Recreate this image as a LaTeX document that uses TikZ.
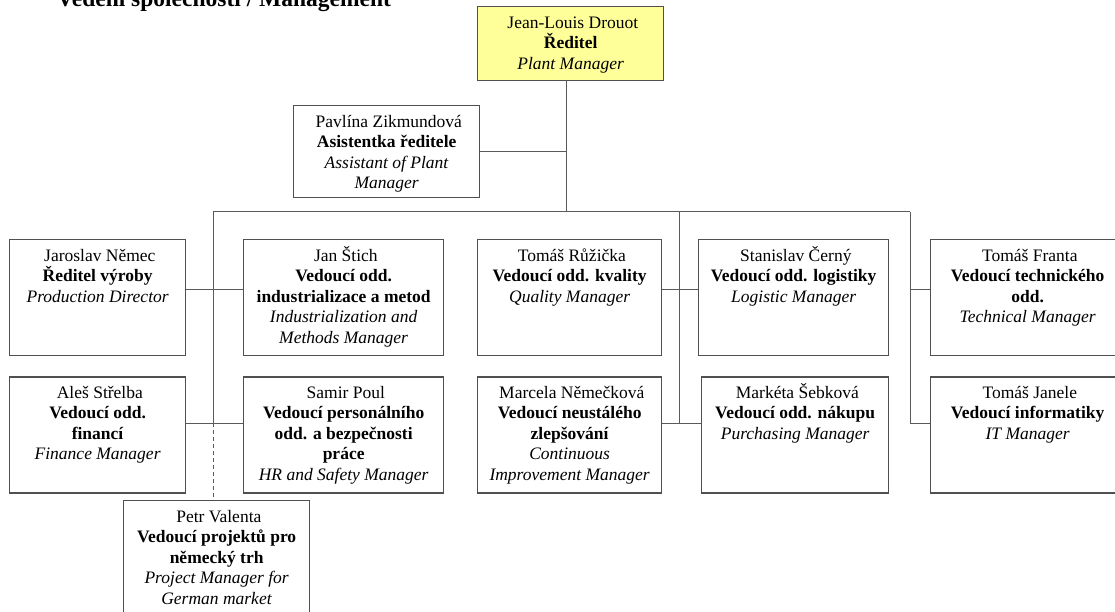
\documentclass[tikz,border=0pt]{standalone}
\usepackage{fontspec}
\setmainfont{Liberation Serif}
\usetikzlibrary{positioning}
\definecolor{headyellow}{RGB}{255,255,153}
\definecolor{boxgray}{RGB}{80,80,80}
\definecolor{linkgray}{RGB}{90,90,90}
\newcommand{\cardtext}[3]{\parbox[t][#2][t]{#1}{\centering\rule{0pt}{21.5pt}#3}}
\tikzset{
    staff/.style={rectangle, draw=boxgray, line width=1.3pt, inner sep=0pt, font=\fontsize{17.5}{20.5}\selectfont},
    headbox/.style={staff, fill=headyellow},
    link/.style={draw=linkgray, line width=1pt},
    dashlink/.style={link, dash pattern=on 4pt off 3pt},
    heading/.style={font=\fontsize{23.5}{26}\selectfont\bfseries}
}

\begin{document}
\begin{tikzpicture}[x=1pt, y=-1pt]

\useasboundingbox (0,0) rectangle (1115,612);
\clip (0,0) rectangle (1115,612);

% Title (cut at the top edge)
\node[heading, anchor=base] (title) at (224,7) {Vedení společnosti / Management};

% Plant manager
\node[headbox, anchor=north west] (drouot) at (477,6) {\cardtext{186pt}{74pt}{
    Jean-Louis Drouot\\
    \textbf{Ředitel}\\
    \textit{Plant Manager}}};

% Assistant
\node[staff, anchor=north west] (zikmundova) at (293,105) {\cardtext{186pt}{92pt}{
    Pavlína Zikmundová\\
    \textbf{Asistentka ředitele}\\
    \textit{Assistant of Plant}\\
    \textit{Manager}}};

% First row
\node[staff, anchor=north west] (nemec) at (9,239) {\cardtext{176pt}{116pt}{
    Jaroslav Němec\\
    \textbf{Ředitel výroby}\\
    \textit{Production Director}}};

\node[staff, anchor=north west] (stich) at (243,239) {\cardtext{200pt}{116pt}{
    Jan Štich\\
    \textbf{Vedoucí odd.}\\
    \textbf{industrializace a metod}\\
    \textit{Industrialization and}\\
    \textit{Methods Manager}}};

\node[staff, anchor=north west] (ruzicka) at (477,239) {\cardtext{184pt}{116pt}{
    Tomáš Růžička\\
    \textbf{Vedoucí odd. kvality}\\
    \textit{Quality Manager}}};

\node[staff, anchor=north west] (cerny) at (698,239) {\cardtext{190pt}{116pt}{
    Stanislav Černý\\
    \textbf{Vedoucí odd. logistiky}\\
    \textit{Logistic Manager}}};

\node[staff, anchor=north west] (franta) at (930,239) {\cardtext{194pt}{116pt}{
    Tomáš Franta\\
    \textbf{Vedoucí technického}\\
    \textbf{odd.}\\
    \textit{Technical Manager}}};

% Second row
\node[staff, below=20pt of nemec] (strelba) {\cardtext{176pt}{116pt}{
    Aleš Střelba\\
    \textbf{Vedoucí odd.}\\
    \textbf{financí}\\
    \textit{Finance Manager}}};

\node[staff, below=20pt of stich] (poul) {\cardtext{200pt}{116pt}{
    Samir Poul\\
    \textbf{Vedoucí personálního}\\
    \textbf{odd. a bezpečnosti}\\
    \textbf{práce}\\
    \textit{HR and Safety Manager}}};

\node[staff, below=20pt of ruzicka] (nemeckova) {\cardtext{184pt}{116pt}{
    Marcela Němečková\\
    \textbf{Vedoucí neustálého}\\
    \textbf{zlepšování}\\
    \textit{Continuous}\\
    \textit{Improvement Manager}}};

\node[staff, below=20pt of cerny.south east, anchor=north east] (sebkova) {\cardtext{187pt}{116pt}{
    Markéta Šebková\\
    \textbf{Vedoucí odd. nákupu}\\
    \textit{Purchasing Manager}}};

\node[staff, below=20pt of franta] (janele) {\cardtext{194pt}{116pt}{
    Tomáš Janele\\
    \textbf{Vedoucí informatiky}\\
    \textit{IT Manager}}};

% Project manager (dashed line)
\node[staff, anchor=north west] (valenta) at (123,500) {\cardtext{186pt}{116pt}{
    Petr Valenta\\
    \textbf{Vedoucí projektů pro}\\
    \textbf{německý trh}\\
    \textit{Project Manager for}\\
    \textit{German market}}};

% Line levels
\coordinate (trunk) at (566,212);
\coordinate (busW) at (213,212);
\coordinate (busM) at (679,212);
\coordinate (busE) at (910,212);
\coordinate (row1) at (0,289);
\coordinate (row2) at (0,423);

% Top connectors
\draw[link] (drouot.south -| trunk) -- (trunk);
\draw[link] (zikmundova.east) -- (zikmundova.east -| trunk);
\draw[link] (busW) -- (busE);

% Left branch
\draw[link] (busW) -- (busW |- row2);
\draw[link] (nemec.east |- row1) -- (stich.west |- row1);
\draw[link] (strelba.east |- row2) -- (poul.west |- row2);
\draw[dashlink] (busW |- row2) -- (valenta.north -| busW);

% Middle branch
\draw[link] (busM) -- (busM |- row2);
\draw[link] (ruzicka.east |- row1) -- (cerny.west |- row1);
\draw[link] (nemeckova.east |- row2) -- (sebkova.west |- row2);

% Right branch
\draw[link] (busE) -- (busE |- row2);
\draw[link] (busE |- row1) -- (franta.west |- row1);
\draw[link] (busE |- row2) -- (janele.west |- row2);

\end{tikzpicture}
\end{document}
